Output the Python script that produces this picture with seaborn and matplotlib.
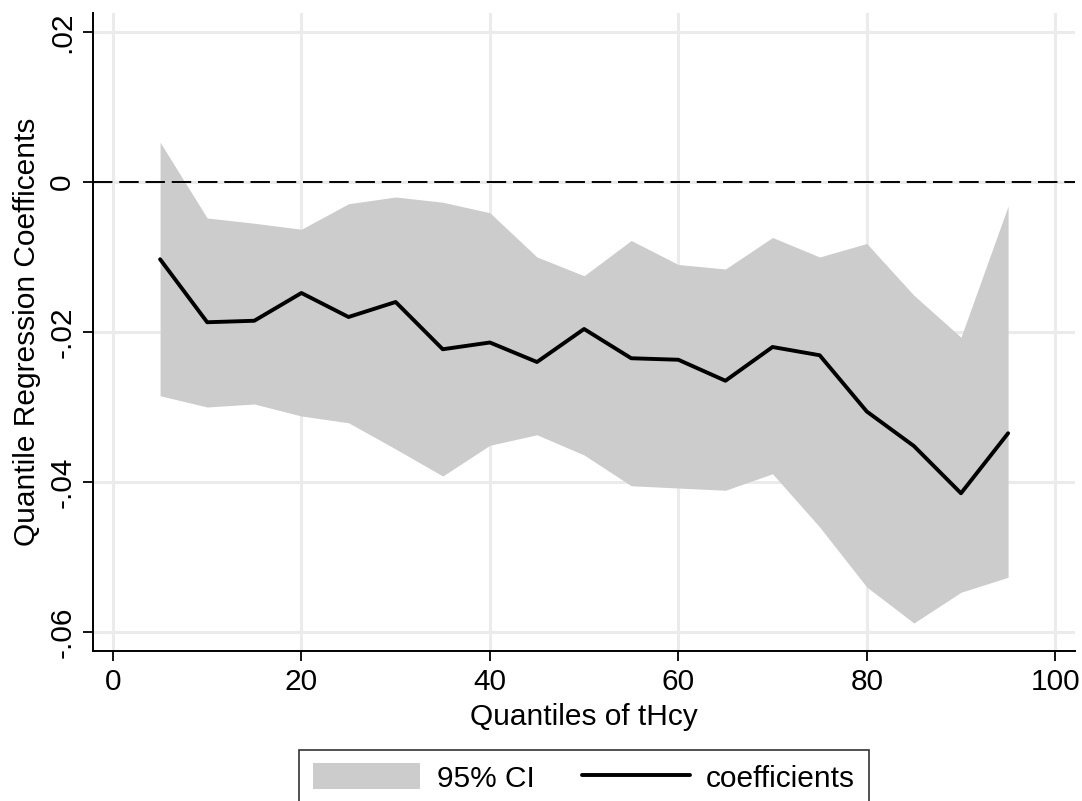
import matplotlib
matplotlib.use("Agg")
import matplotlib.pyplot as plt
import seaborn as sns
import pandas as pd
from matplotlib.patches import Patch
from matplotlib.lines import Line2D

quantiles = [5, 10, 15, 20, 25, 30, 35, 40, 45, 50, 55, 60, 65, 70, 75, 80, 85, 90, 95]
coef = [-0.0103, -0.0187, -0.0185, -0.0148, -0.0180, -0.0160, -0.0223, -0.0214, -0.0240,
        -0.0196, -0.0235, -0.0237, -0.0265, -0.0220, -0.0231, -0.0306, -0.0352, -0.0415, -0.0335]
ci_upper = [0.0053, -0.0048, -0.0055, -0.0063, -0.0029, -0.0020, -0.0027, -0.0041, -0.0100,
            -0.0125, -0.0078, -0.0110, -0.0116, -0.0074, -0.0100, -0.0082, -0.0151, -0.0207, -0.0032]
ci_lower = [-0.0285, -0.0300, -0.0296, -0.0312, -0.0321, -0.0356, -0.0392, -0.0351, -0.0337,
            -0.0364, -0.0405, -0.0408, -0.0411, -0.0389, -0.0460, -0.0540, -0.0588, -0.0547, -0.0527]
xticks = [0, 20, 40, 60, 80, 100]
yticks = [0.02, 0, -0.02, -0.04, -0.06]
ytick_labels = [".02", "0", "-.02", "-.04", "-.06"]

df = pd.DataFrame({"q": quantiles, "coef": coef, "lo": ci_lower, "hi": ci_upper})

sns.set_style("white")
plt.rcParams["font.family"] = ["Liberation Sans", "DejaVu Sans"]
plt.rcParams["text.color"] = "black"
plt.rcParams["axes.labelcolor"] = "black"
plt.rcParams["xtick.color"] = "black"
plt.rcParams["ytick.color"] = "black"
plt.rcParams["xtick.bottom"] = True
plt.rcParams["ytick.left"] = True

W, H = 1082, 801
FS = 21.5
fig = plt.figure(figsize=(W / 100, H / 100), dpi=100)
ax = fig.add_axes([93 / W, 1 - 651 / H, (1075 - 93) / W, (651 - 13) / H])

grid_c = "#EBEBEB"
for xt in xticks:
    ax.axvline(xt, color=grid_c, lw=2.2, zorder=0)
for yt in yticks:
    ax.axhline(yt, color=grid_c, lw=2.2, zorder=0)

ax.fill_between(df["q"], df["lo"], df["hi"], color="#CCCCCC", lw=0, zorder=1)
ax.axhline(0, color="black", lw=1.4, dashes=(10, 3.5), zorder=2)
sns.lineplot(data=df, x="q", y="coef", ax=ax, color="black", lw=2.8, zorder=3, legend=False)

ax.set_xlim(-2.12, 102.1)
ax.set_ylim(-0.06253, 0.02253)
ax.set_xticks(xticks)
ax.set_xticklabels([str(v) for v in xticks], fontsize=FS)
ax.set_yticks(yticks)
ax.set_yticklabels(ytick_labels, fontsize=FS, rotation=90, va="center")
ax.tick_params(axis="both", which="major", direction="out", length=7, width=1.3,
               color="black", pad=5, bottom=True, left=True)

for s in ["top", "right"]:
    ax.spines[s].set_visible(False)
for s in ["left", "bottom"]:
    ax.spines[s].set_color("black")
    ax.spines[s].set_linewidth(1.4)

ax.set_xlabel("Quantiles of tHcy", fontsize=FS, labelpad=5)
ax.set_ylabel("Quantile Regression Coefficents", fontsize=FS, labelpad=5)

handles = [Patch(facecolor="#CCCCCC", edgecolor="none"),
           Line2D([0], [0], color="black", lw=2.8)]
leg = fig.legend(handles, ["95% CI", "coefficients"], loc="upper center",
                 bbox_to_anchor=(584 / W, 1 - 750 / H), ncol=2, fontsize=FS,
                 frameon=True, fancybox=False, edgecolor="black", handlelength=3.6,
                 handleheight=0.95, handletextpad=0.55, columnspacing=1.6,
                 borderpad=0.45, borderaxespad=0)
leg.get_frame().set_linewidth(1.2)

fig.savefig("out.png", dpi=100)
